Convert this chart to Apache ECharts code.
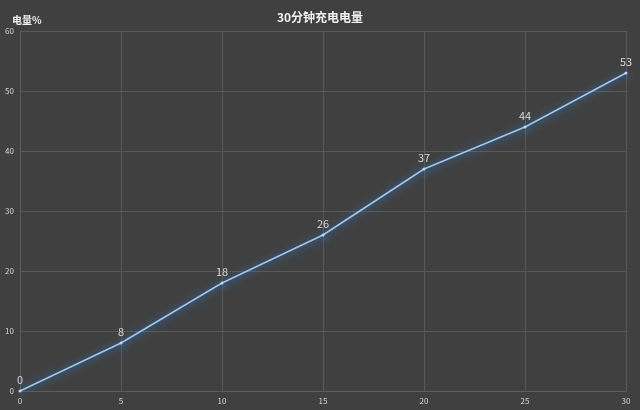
<!DOCTYPE html>
<html lang="zh">
<head>
<meta charset="UTF-8">
<script src="https://cdn.jsdelivr.net/npm/echarts@6/dist/echarts.min.js"></script>
<style>
  html, body { margin: 0; padding: 0; background: #404040; }
  #chart { width: 640px; height: 410px; }
</style>
</head>
<body>
<div id="chart"></div>
<script>
// 数据
var minutes = [0, 5, 10, 15, 20, 25, 30];
var battery = [0, 8, 18, 26, 37, 44, 53];

var chart = echarts.init(document.getElementById('chart'));
var font = '"Noto Sans CJK SC", sans-serif';
var option = {
  backgroundColor: '#404040',
  animation: false,
  title: {
    text: '30分钟充电电量',
    left: 'center',
    top: 6,
    textStyle: { color: '#f0f0f0', fontSize: 12, fontWeight: 'bold', fontFamily: font }
  },
  grid: { left: 20, right: 14, top: 31, bottom: 19 },
  xAxis: {
    type: 'value',
    min: 0, max: 30, interval: 5,
    axisLine: { show: true, lineStyle: { color: '#5c5c5c' } },
    axisTick: { show: false },
    splitLine: { show: true, lineStyle: { color: '#585858' } },
    axisLabel: { color: '#d8d8d8', fontSize: 8, margin: 6, fontFamily: font }
  },
  yAxis: {
    type: 'value',
    min: 0, max: 60, interval: 10,
    name: '电量%',
    nameLocation: 'end',
    nameGap: 6,
    nameTextStyle: { color: '#f0f0f0', fontSize: 10, fontWeight: 'bold', align: 'left', padding: [0, 0, 0, -8], fontFamily: font },
    axisLine: { show: true, lineStyle: { color: '#5c5c5c' } },
    axisTick: { show: false },
    splitLine: { show: true, lineStyle: { color: '#585858' } },
    axisLabel: { color: '#d8d8d8', fontSize: 8, margin: 6, fontFamily: font }
  },
  series: [{
    type: 'line',
    data: minutes.map(function (m, i) { return [m, battery[i]]; }),
    symbol: 'circle',
    symbolSize: 3,
    itemStyle: {
      color: '#b8dafa',
      shadowColor: 'rgba(70,150,230,0.8)', shadowBlur: 6, shadowOffsetX: 3, shadowOffsetY: 4
    },
    lineStyle: {
      color: '#9cc8f2', width: 1.5,
      shadowColor: 'rgba(50,140,235,1)', shadowBlur: 8, shadowOffsetX: 0, shadowOffsetY: 1
    },
    label: {
      show: true, position: 'top', distance: 4,
      color: '#d8d8d8', fontSize: 11, fontFamily: font
    }
  }]
};
chart.setOption(option);
</script>
</body>
</html>
